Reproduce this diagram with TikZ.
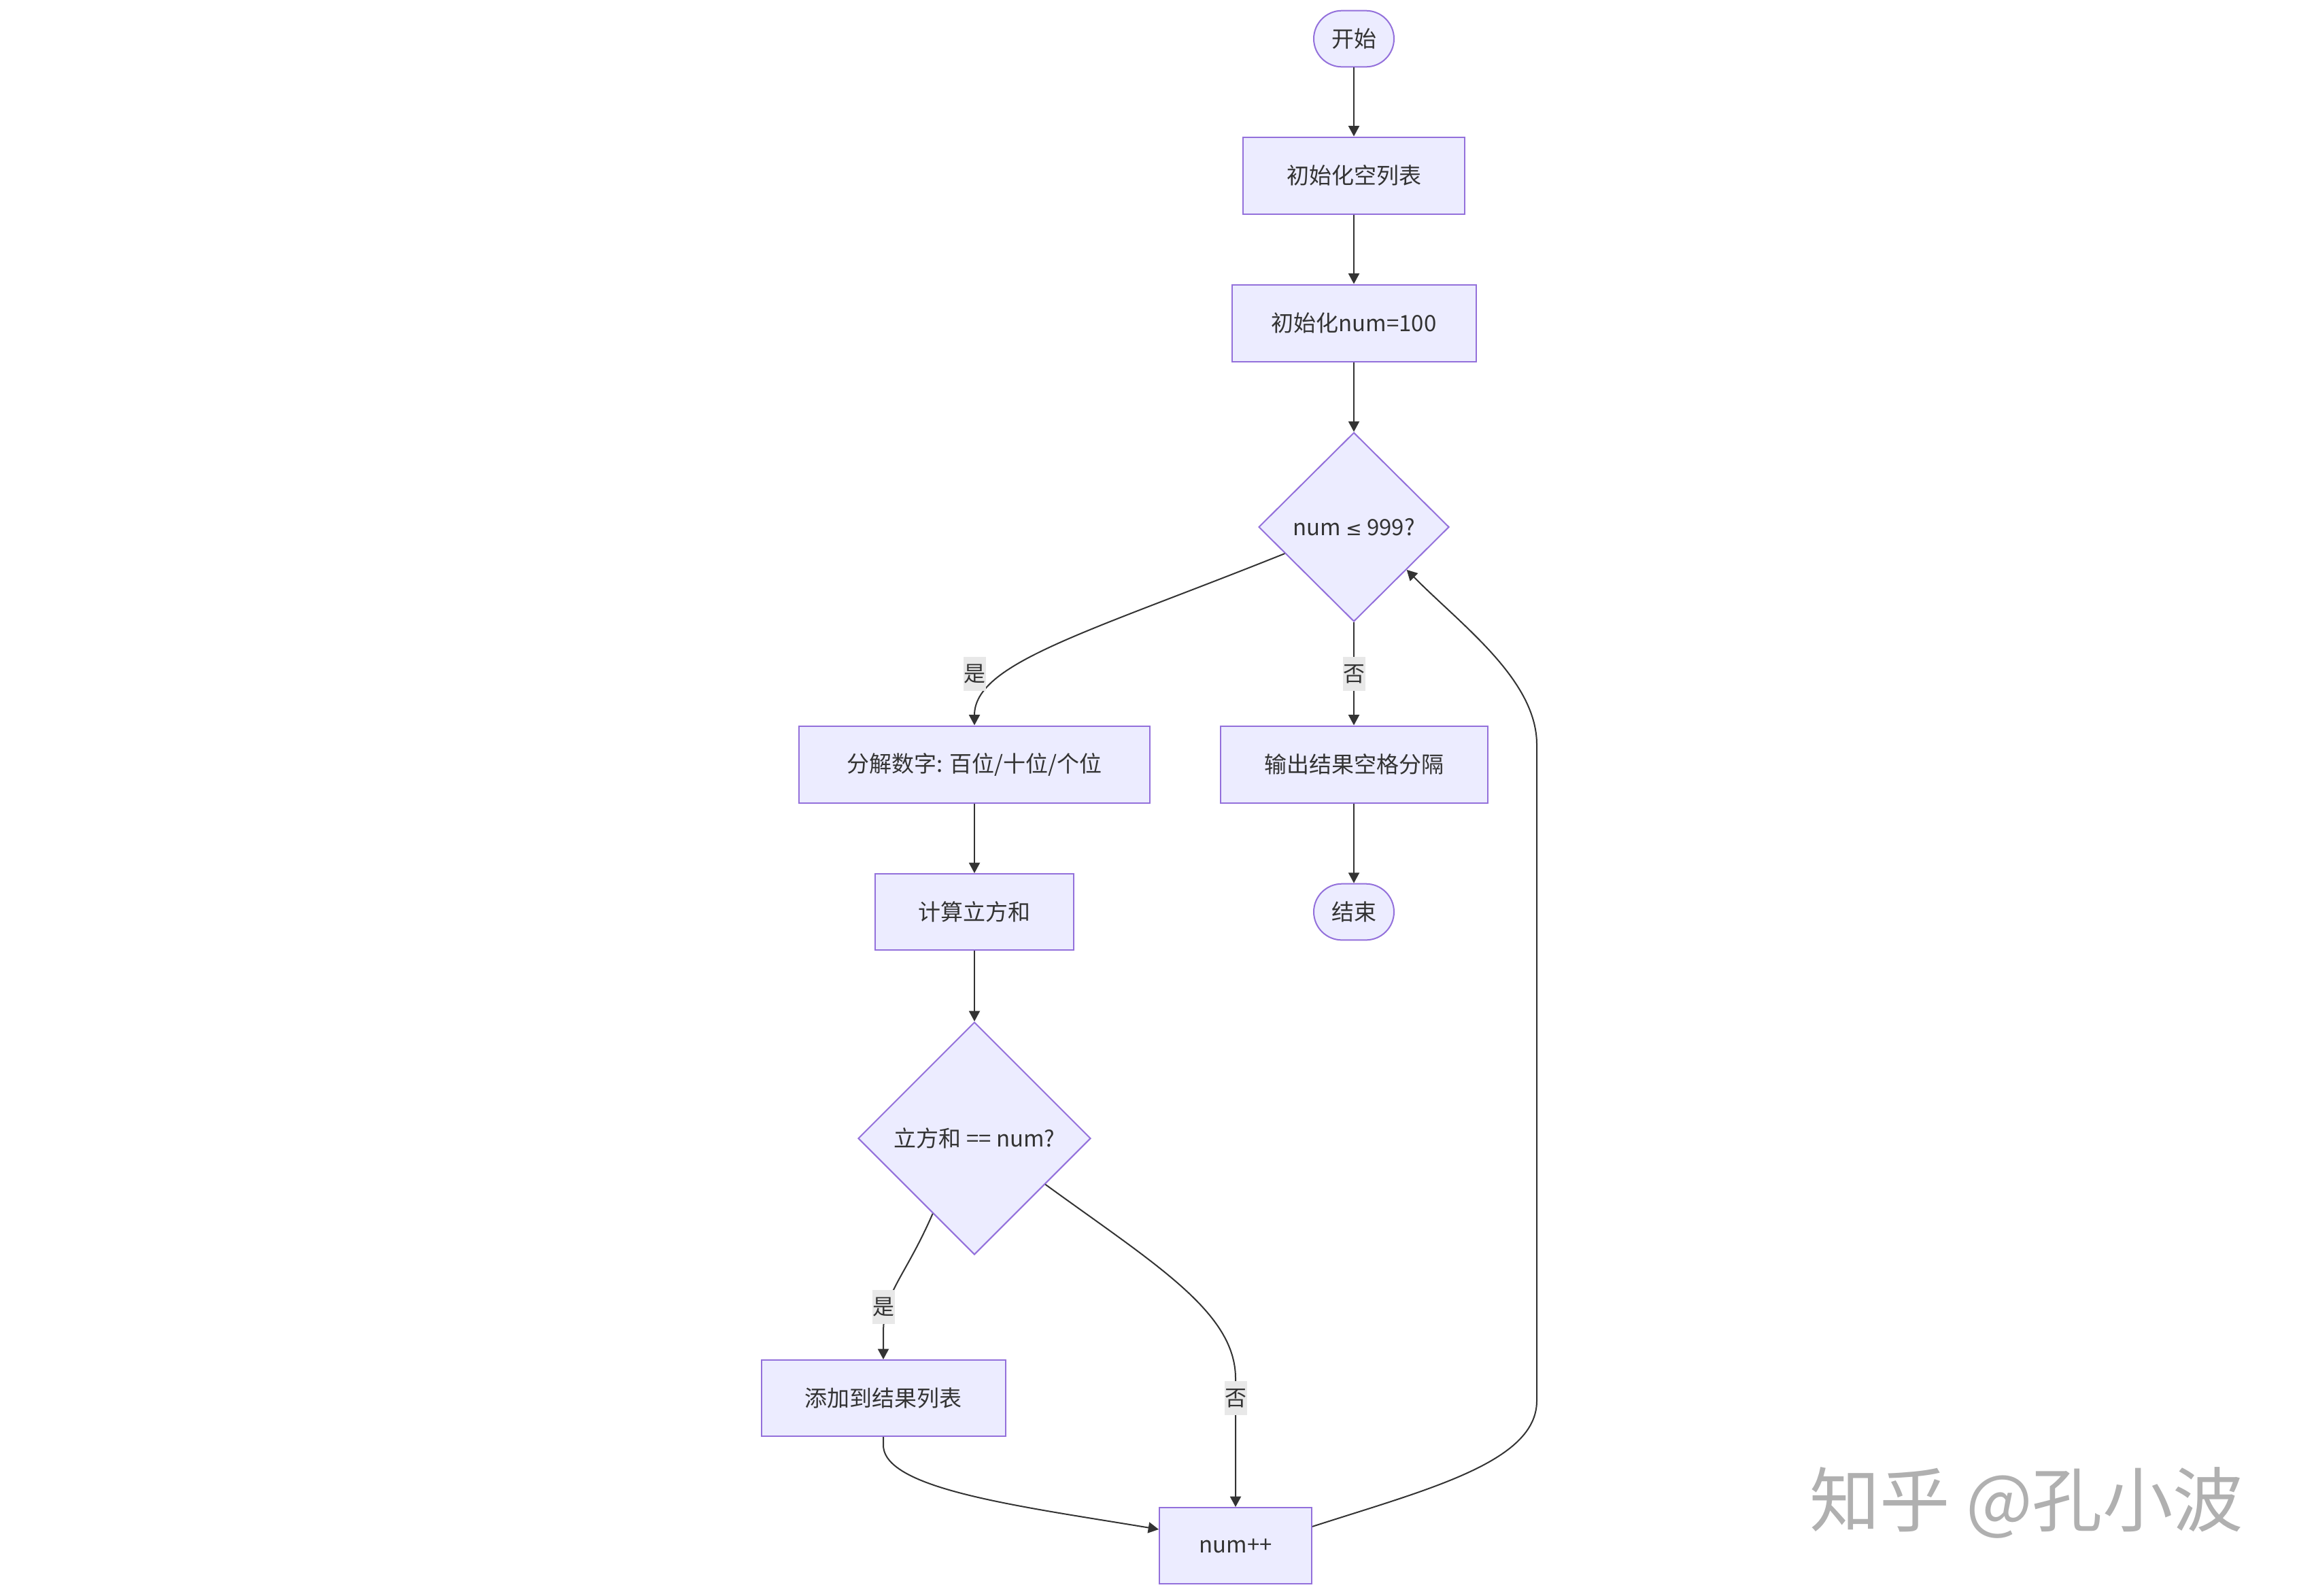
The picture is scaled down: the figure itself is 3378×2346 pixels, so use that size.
\documentclass[tikz,border=0pt]{standalone}
\usepackage{fontspec}
\setmainfont{Noto Sans CJK SC}
\newfontfamily\symfnt{DejaVu Sans}
\usetikzlibrary{shapes.geometric,arrows.meta}
\definecolor{nodefill}{HTML}{ECECFF}
\definecolor{nodeline}{HTML}{9370DB}
\definecolor{edgeline}{HTML}{333333}
\definecolor{txt}{HTML}{333333}
\definecolor{lblbg}{HTML}{E8E8E8}
\definecolor{wmgray}{HTML}{B0B0B0}
\begin{document}
\begin{tikzpicture}[x=0.3pt,y=-0.3pt,
  base/.style={draw=nodeline, fill=nodefill, line width=0.6pt, text=txt,
    font=\fontsize{9.9pt}{12pt}\selectfont, inner sep=0pt},
  procbox/.style={base, rectangle, minimum height=33.9pt},
  termbox/.style={base, rectangle, rounded corners=12.4pt, minimum width=35.4pt, minimum height=24.8pt},
  decbox/.style={base, diamond, aspect=1},
  edge/.style={draw=edgeline, line width=0.6pt, -{Triangle[length=4.6pt,width=4.8pt]}},
  lbl/.style={fill=lblbg, text=txt, font=\fontsize{9.6pt}{12pt}\selectfont,
    inner sep=0pt, minimum width=9.9pt, minimum height=15pt}
]
\fill[white] (0,0) rectangle (3378,2346);
\useasboundingbox (0,0) rectangle (3378,2346);

% nodes
\node[termbox] (start) at (1991,57) {开始};
\node[procbox, minimum width=97.8pt] (init1) at (1991,258) {初始化空列表};
\node[procbox, minimum width=107.7pt] (init2) at (1991,475) {初始化num=100};
\node[decbox, minimum width=84pt, minimum height=83.4pt] (d1) at (1991,775) {num {\symfnt\fontsize{8.5pt}{12pt}\selectfont ≤} 999?};
\node[procbox, minimum width=117.9pt] (out) at (1991,1124) {输出结果空格分隔};
\node[termbox] (stop) at (1991,1341) {结束};
\node[procbox, minimum width=154.8pt] (split) at (1433,1124) {分解数字: 百位/十位/个位};
\node[procbox, minimum width=87.6pt, minimum height=33.6pt] (calc) at (1433,1341) {计算立方和};
\node[decbox, minimum width=102.6pt, minimum height=102.6pt] (d2) at (1433,1674) {立方和 == num?};
\node[procbox, minimum width=107.7pt, minimum height=33.6pt] (add) at (1299,2056) {添加到结果列表};
\node[procbox, minimum width=67.2pt, minimum height=33.6pt] (inc) at (1817,2273) {num++};

% edges
\draw[edge] (start) -- (init1);
\draw[edge] (init1) -- (init2);
\draw[edge] (init2) -- (d1);
\draw[edge] (d1.201.6) .. controls (1600,930) and (1433,975) .. (split.north);
\draw[edge] (d1) -- (out);
\draw[edge] (out) -- (stop);
\draw[edge] (split) -- (calc);
\draw[edge] (calc) -- (d2);
\coordinate (b2) at (1299,1960);
\draw[edge] (d2.241.8) .. controls (1330,1880) and (1299,1900) .. (b2) -- (add.north);
\coordinate (b3) at (1817,2027);
\draw[edge] (d2.-33.3) .. controls (1700,1860) and (1817,1930) .. (b3) -- (inc.north);
\coordinate (b4) at (1299,2125);
\draw[edge] (add.south) -- (b4) .. controls (1299,2190) and (1500,2215) .. (inc.168.4);
\coordinate (b5) at (2260,2060);
\coordinate (b6) at (2260,1095);
\draw[edge] (inc.14.5) .. controls (2100,2190) and (2260,2150) .. (b5) -- (b6)
  .. controls (2260,1000) and (2150,920) .. (d1.-39.7);

% edge labels
\node[lbl] (l1) at (1433,991) {是};
\node[lbl] (l2) at (1991,991) {否};
\node[lbl] (l3) at (1299,1922) {是};
\node[lbl] (l4) at (1817,2056) {否};

% watermark
\node[text=wmgray, font=\fontsize{31pt}{36pt}\selectfont, inner sep=0pt] (wm) at (2980,2210) {知乎 @孔小波};
\end{tikzpicture}
\end{document}
